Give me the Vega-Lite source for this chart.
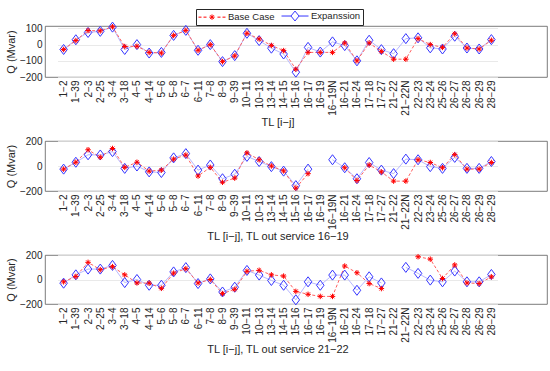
{
  "$schema": "https://vega.github.io/schema/vega-lite/v6.json",
  "background": "white",
  "padding": {"left": 5, "top": 8, "right": 3, "bottom": 2},
  "datasets": {
    "d": [
      {"p": 1, "tl": "1−2", "Base Case": -30, "Expanssion": -30},
      {"p": 1, "tl": "1−39", "Base Case": 25, "Expanssion": 30},
      {"p": 1, "tl": "2−3", "Base Case": 87, "Expanssion": 75},
      {"p": 1, "tl": "2−25", "Base Case": 85, "Expanssion": 82},
      {"p": 1, "tl": "3−4", "Base Case": 110, "Expanssion": 108},
      {"p": 1, "tl": "3−18", "Base Case": -12, "Expanssion": -30},
      {"p": 1, "tl": "4−5", "Base Case": -10, "Expanssion": 0},
      {"p": 1, "tl": "4−14", "Base Case": -48, "Expanssion": -52},
      {"p": 1, "tl": "5−6", "Base Case": -52, "Expanssion": -48},
      {"p": 1, "tl": "5−8", "Base Case": 57, "Expanssion": 57},
      {"p": 1, "tl": "6−7", "Base Case": 88, "Expanssion": 88},
      {"p": 1, "tl": "6−11", "Base Case": -35, "Expanssion": -35},
      {"p": 1, "tl": "7−8", "Base Case": 0, "Expanssion": 0},
      {"p": 1, "tl": "8−9", "Base Case": -105, "Expanssion": -105},
      {"p": 1, "tl": "9−39", "Base Case": -70, "Expanssion": -68},
      {"p": 1, "tl": "10−11", "Base Case": 70, "Expanssion": 70},
      {"p": 1, "tl": "10−13", "Base Case": 35, "Expanssion": 25},
      {"p": 1, "tl": "13−14", "Base Case": -5, "Expanssion": -22},
      {"p": 1, "tl": "14−15", "Base Case": -37, "Expanssion": -58},
      {"p": 1, "tl": "15−16", "Base Case": -152, "Expanssion": -170},
      {"p": 1, "tl": "16−17", "Base Case": -48, "Expanssion": -17},
      {"p": 1, "tl": "16−19", "Base Case": -48, "Expanssion": -46},
      {"p": 1, "tl": "16−19N", "Base Case": -48, "Expanssion": 17},
      {"p": 1, "tl": "16−21", "Base Case": 10, "Expanssion": -6},
      {"p": 1, "tl": "16−24", "Base Case": -100, "Expanssion": -100},
      {"p": 1, "tl": "17−18", "Base Case": 10, "Expanssion": 27},
      {"p": 1, "tl": "17−27", "Base Case": -42, "Expanssion": -31},
      {"p": 1, "tl": "21−22", "Base Case": -90, "Expanssion": -56},
      {"p": 1, "tl": "21−22N", "Base Case": -90, "Expanssion": 37},
      {"p": 1, "tl": "22−23", "Base Case": 37, "Expanssion": 42},
      {"p": 1, "tl": "23−24", "Base Case": 0, "Expanssion": -20},
      {"p": 1, "tl": "25−26", "Base Case": -17, "Expanssion": -27},
      {"p": 1, "tl": "26−27", "Base Case": 67, "Expanssion": 52},
      {"p": 1, "tl": "26−28", "Base Case": -21, "Expanssion": -21},
      {"p": 1, "tl": "26−29", "Base Case": -27, "Expanssion": -27},
      {"p": 1, "tl": "28−29", "Base Case": 27, "Expanssion": 31},

      {"p": 2, "tl": "1−2", "Base Case": -25, "Expanssion": -25},
      {"p": 2, "tl": "1−39", "Base Case": 30, "Expanssion": 30},
      {"p": 2, "tl": "2−3", "Base Case": 130, "Expanssion": 90},
      {"p": 2, "tl": "2−25", "Base Case": 70, "Expanssion": 88},
      {"p": 2, "tl": "3−4", "Base Case": 140, "Expanssion": 115},
      {"p": 2, "tl": "3−18", "Base Case": -11, "Expanssion": -19},
      {"p": 2, "tl": "4−5", "Base Case": 30, "Expanssion": 0},
      {"p": 2, "tl": "4−14", "Base Case": -41, "Expanssion": -47},
      {"p": 2, "tl": "5−6", "Base Case": -33, "Expanssion": -52},
      {"p": 2, "tl": "5−8", "Base Case": 55, "Expanssion": 65},
      {"p": 2, "tl": "6−7", "Base Case": 88, "Expanssion": 99},
      {"p": 2, "tl": "6−11", "Base Case": -80, "Expanssion": -33},
      {"p": 2, "tl": "7−8", "Base Case": -11, "Expanssion": 8},
      {"p": 2, "tl": "8−9", "Base Case": -130, "Expanssion": -102},
      {"p": 2, "tl": "9−39", "Base Case": -97, "Expanssion": -66},
      {"p": 2, "tl": "10−11", "Base Case": 105, "Expanssion": 77},
      {"p": 2, "tl": "10−13", "Base Case": 50, "Expanssion": 36},
      {"p": 2, "tl": "13−14", "Base Case": 0, "Expanssion": -5},
      {"p": 2, "tl": "14−15", "Base Case": -39, "Expanssion": -41},
      {"p": 2, "tl": "15−16", "Base Case": -177, "Expanssion": -157},
      {"p": 2, "tl": "16−17", "Base Case": -61, "Expanssion": -25},
      {"p": 2, "tl": "16−19", "Base Case": null, "Expanssion": null},
      {"p": 2, "tl": "16−19N", "Base Case": null, "Expanssion": 50},
      {"p": 2, "tl": "16−21", "Base Case": -14, "Expanssion": -14},
      {"p": 2, "tl": "16−24", "Base Case": -116, "Expanssion": -102},
      {"p": 2, "tl": "17−18", "Base Case": 8, "Expanssion": 28},
      {"p": 2, "tl": "17−27", "Base Case": -47, "Expanssion": -33},
      {"p": 2, "tl": "21−22", "Base Case": -121, "Expanssion": -61},
      {"p": 2, "tl": "21−22N", "Base Case": -121, "Expanssion": 55},
      {"p": 2, "tl": "22−23", "Base Case": 50, "Expanssion": 50},
      {"p": 2, "tl": "23−24", "Base Case": 28, "Expanssion": -5},
      {"p": 2, "tl": "25−26", "Base Case": -14, "Expanssion": -19},
      {"p": 2, "tl": "26−27", "Base Case": 91, "Expanssion": 69},
      {"p": 2, "tl": "26−28", "Base Case": -25, "Expanssion": -19},
      {"p": 2, "tl": "26−29", "Base Case": -25, "Expanssion": -19},
      {"p": 2, "tl": "28−29", "Base Case": 28, "Expanssion": 36},

      {"p": 3, "tl": "1−2", "Base Case": -19, "Expanssion": -30},
      {"p": 3, "tl": "1−39", "Base Case": 25, "Expanssion": 38},
      {"p": 3, "tl": "2−3", "Base Case": 140, "Expanssion": 85},
      {"p": 3, "tl": "2−25", "Base Case": 80, "Expanssion": 85},
      {"p": 3, "tl": "3−4", "Base Case": 105, "Expanssion": 115},
      {"p": 3, "tl": "3−18", "Base Case": 38, "Expanssion": -25},
      {"p": 3, "tl": "4−5", "Base Case": -28, "Expanssion": 0},
      {"p": 3, "tl": "4−14", "Base Case": -30, "Expanssion": -47},
      {"p": 3, "tl": "5−6", "Base Case": -72, "Expanssion": -47},
      {"p": 3, "tl": "5−8", "Base Case": 52, "Expanssion": 62},
      {"p": 3, "tl": "6−7", "Base Case": 88, "Expanssion": 97},
      {"p": 3, "tl": "6−11", "Base Case": -28, "Expanssion": -33},
      {"p": 3, "tl": "7−8", "Base Case": 0, "Expanssion": 5},
      {"p": 3, "tl": "8−9", "Base Case": -115, "Expanssion": -102},
      {"p": 3, "tl": "9−39", "Base Case": -80, "Expanssion": -63},
      {"p": 3, "tl": "10−11", "Base Case": 67, "Expanssion": 74},
      {"p": 3, "tl": "10−13", "Base Case": 75, "Expanssion": 36},
      {"p": 3, "tl": "13−14", "Base Case": 38, "Expanssion": -8},
      {"p": 3, "tl": "14−15", "Base Case": 28, "Expanssion": -47},
      {"p": 3, "tl": "15−16", "Base Case": -97, "Expanssion": -166},
      {"p": 3, "tl": "16−17", "Base Case": -121, "Expanssion": -19},
      {"p": 3, "tl": "16−19", "Base Case": -138, "Expanssion": -47},
      {"p": 3, "tl": "16−19N", "Base Case": -138, "Expanssion": 36},
      {"p": 3, "tl": "16−21", "Base Case": 110, "Expanssion": 36},
      {"p": 3, "tl": "16−24", "Base Case": 55, "Expanssion": -88},
      {"p": 3, "tl": "17−18", "Base Case": -33, "Expanssion": 22},
      {"p": 3, "tl": "17−27", "Base Case": -74, "Expanssion": -28},
      {"p": 3, "tl": "21−22", "Base Case": null, "Expanssion": null},
      {"p": 3, "tl": "21−22N", "Base Case": null, "Expanssion": 99},
      {"p": 3, "tl": "22−23", "Base Case": 186, "Expanssion": 50},
      {"p": 3, "tl": "23−24", "Base Case": 166, "Expanssion": -5},
      {"p": 3, "tl": "25−26", "Base Case": 8, "Expanssion": -19},
      {"p": 3, "tl": "26−27", "Base Case": 119, "Expanssion": 69},
      {"p": 3, "tl": "26−28", "Base Case": -28, "Expanssion": -19},
      {"p": 3, "tl": "26−29", "Base Case": -33, "Expanssion": -19},
      {"p": 3, "tl": "28−29", "Base Case": 22, "Expanssion": 41}
    ]
  },
  "data": {"name": "d"},
  "transform": [{"fold": ["Base Case", "Expanssion"], "as": ["s", "q"]}],
  "spacing": 7,
  "vconcat": [
    {
      "width": 502, "height": 51,
      "transform": [{"filter": "datum.p === 1"}],
      "encoding": {
        "x": {"field": "tl", "type": "nominal", "sort": ["1−2","1−39","2−3","2−25","3−4","3−18","4−5","4−14","5−6","5−8","6−7","6−11","7−8","8−9","9−39","10−11","10−13","13−14","14−15","15−16","16−17","16−19","16−19N","16−21","16−24","17−18","17−27","21−22","21−22N","22−23","23−24","25−26","26−27","26−28","26−29","28−29"],
          "scale": {"type": "point", "range": [12.5, 452.5]}, "axis": {"title": "TL [i−j]"}},
        "y": {"field": "q", "type": "quantitative", "scale": {"domain": [-200, 115], "nice": false, "zero": false}, "axis": {"values": [-200, -100, 0, 100], "title": "Q (Mvar)"}}
      },
      "layer": [
        {"transform": [{"filter": "datum.s === 'Expanssion'"}],
         "mark": {"type": "line", "strokeWidth": 1, "stroke": "#b8b8ff", "invalid": "break-paths-filter-domains"}},
        {"transform": [{"filter": "datum.s === 'Base Case'"}],
         "mark": {"type": "line", "strokeWidth": 1, "stroke": "#ff6060", "strokeDash": [3, 2], "invalid": "break-paths-filter-domains"}},
        {"transform": [{"filter": "datum.s === 'Expanssion'"}],
         "mark": {"type": "point", "filled": false, "strokeWidth": 1, "opacity": 1, "shape": "M0,-1.2L0.9,0L0,1.2L-0.9,0Z", "size": 70},
         "encoding": {"color": {"field": "s", "type": "nominal", "scale": {"domain": ["Base Case", "Expanssion"], "range": ["#ff0000", "#3535ff"]}, "legend": {"title": null}}}},
        {"transform": [{"filter": "datum.s === 'Base Case'"}],
         "mark": {"type": "point", "filled": false, "strokeWidth": 1, "opacity": 1, "shape": "M-1,0L1,0M0,-1L0,1M-0.7,-0.7L0.7,0.7M-0.7,0.7L0.7,-0.7", "size": 30},
         "encoding": {"color": {"field": "s", "type": "nominal", "scale": {"domain": ["Base Case", "Expanssion"], "range": ["#ff0000", "#3535ff"]}, "legend": {"title": null}}}},
        {"mark": {"type": "point", "filled": false, "strokeWidth": 1, "opacity": 0, "size": 81},
         "encoding": {
           "color": {"field": "s", "type": "nominal", "scale": {"domain": ["Base Case", "Expanssion"], "range": ["#ff0000", "#3535ff"]}, "legend": {"title": null}},
           "shape": {"field": "s", "type": "nominal", "scale": {"domain": ["Base Case", "Expanssion"], "range": ["M-1,0L-0.33,0M0.11,0L0.78,0M3.22,0L3.89,0M4.33,0L5,0M1.4,0L2.6,0M2,-0.6L2,0.6M1.58,-0.42L2.42,0.42M1.58,0.42L2.42,-0.42", "M-1,0L1.1,0M2.9,0L5,0M2,-1.1L2.9,0L2,1.1L1.1,0Z"]}, "legend": {"title": null}}
         }}
      ]
    },
    {
      "width": 502, "height": 50,
      "transform": [{"filter": "datum.p === 2"}],
      "encoding": {
        "x": {"field": "tl", "type": "nominal", "sort": ["1−2","1−39","2−3","2−25","3−4","3−18","4−5","4−14","5−6","5−8","6−7","6−11","7−8","8−9","9−39","10−11","10−13","13−14","14−15","15−16","16−17","16−19","16−19N","16−21","16−24","17−18","17−27","21−22","21−22N","22−23","23−24","25−26","26−27","26−28","26−29","28−29"],
          "scale": {"type": "point", "range": [12.5, 452.5]}, "axis": {"title": "TL [i−j], TL out service 16−19"}},
        "y": {"field": "q", "type": "quantitative", "scale": {"domain": [-200, 200], "nice": false, "zero": false}, "axis": {"values": [-200, 0, 200], "title": "Q (Mvar)"}}
      },
      "layer": [
        {"transform": [{"filter": "datum.s === 'Expanssion'"}],
         "mark": {"type": "line", "strokeWidth": 1, "stroke": "#b8b8ff", "invalid": "break-paths-filter-domains"}},
        {"transform": [{"filter": "datum.s === 'Base Case'"}],
         "mark": {"type": "line", "strokeWidth": 1, "stroke": "#ff6060", "strokeDash": [3, 2], "invalid": "break-paths-filter-domains"}},
        {"transform": [{"filter": "datum.s === 'Expanssion'"}],
         "mark": {"type": "point", "filled": false, "strokeWidth": 1, "opacity": 1, "shape": "M0,-1.2L0.9,0L0,1.2L-0.9,0Z", "size": 70},
         "encoding": {"color": {"field": "s", "type": "nominal", "scale": {"domain": ["Base Case", "Expanssion"], "range": ["#ff0000", "#3535ff"]}, "legend": {"title": null}}}},
        {"transform": [{"filter": "datum.s === 'Base Case'"}],
         "mark": {"type": "point", "filled": false, "strokeWidth": 1, "opacity": 1, "shape": "M-1,0L1,0M0,-1L0,1M-0.7,-0.7L0.7,0.7M-0.7,0.7L0.7,-0.7", "size": 30},
         "encoding": {"color": {"field": "s", "type": "nominal", "scale": {"domain": ["Base Case", "Expanssion"], "range": ["#ff0000", "#3535ff"]}, "legend": {"title": null}}}}
      ]
    },
    {
      "width": 502, "height": 49,
      "transform": [{"filter": "datum.p === 3"}],
      "encoding": {
        "x": {"field": "tl", "type": "nominal", "sort": ["1−2","1−39","2−3","2−25","3−4","3−18","4−5","4−14","5−6","5−8","6−7","6−11","7−8","8−9","9−39","10−11","10−13","13−14","14−15","15−16","16−17","16−19","16−19N","16−21","16−24","17−18","17−27","21−22","21−22N","22−23","23−24","25−26","26−27","26−28","26−29","28−29"],
          "scale": {"type": "point", "range": [12.5, 452.5]}, "axis": {"title": "TL [i−j], TL out service 21−22"}},
        "y": {"field": "q", "type": "quantitative", "scale": {"domain": [-200, 200], "nice": false, "zero": false}, "axis": {"values": [-200, 0, 200], "title": "Q (Mvar)"}}
      },
      "layer": [
        {"transform": [{"filter": "datum.s === 'Expanssion'"}],
         "mark": {"type": "line", "strokeWidth": 1, "stroke": "#b8b8ff", "invalid": "break-paths-filter-domains"}},
        {"transform": [{"filter": "datum.s === 'Base Case'"}],
         "mark": {"type": "line", "strokeWidth": 1, "stroke": "#ff6060", "strokeDash": [3, 2], "invalid": "break-paths-filter-domains"}},
        {"transform": [{"filter": "datum.s === 'Expanssion'"}],
         "mark": {"type": "point", "filled": false, "strokeWidth": 1, "opacity": 1, "shape": "M0,-1.2L0.9,0L0,1.2L-0.9,0Z", "size": 70},
         "encoding": {"color": {"field": "s", "type": "nominal", "scale": {"domain": ["Base Case", "Expanssion"], "range": ["#ff0000", "#3535ff"]}, "legend": {"title": null}}}},
        {"transform": [{"filter": "datum.s === 'Base Case'"}],
         "mark": {"type": "point", "filled": false, "strokeWidth": 1, "opacity": 1, "shape": "M-1,0L1,0M0,-1L0,1M-0.7,-0.7L0.7,0.7M-0.7,0.7L0.7,-0.7", "size": 30},
         "encoding": {"color": {"field": "s", "type": "nominal", "scale": {"domain": ["Base Case", "Expanssion"], "range": ["#ff0000", "#3535ff"]}, "legend": {"title": null}}}}
      ]
    }
  ],
  "resolve": {"scale": {"y": "independent", "x": "independent"}},
  "config": {
    "font": "Liberation Sans",
    "view": {"stroke": "#5a5a5a", "strokeWidth": 0.8},
    "axis": {
      "labelFont": "Liberation Sans", "labelFontSize": 10, "labelColor": "#262626",
      "titleFont": "Liberation Sans", "titleFontSize": 11, "titleFontWeight": "normal", "titleColor": "#262626",
      "gridColor": "#e3e3e3", "gridWidth": 0.8, "domain": false, "ticks": false, "labelPadding": 3
    },
    "axisX": {"labelAngle": -90, "titlePadding": 1, "labelBound": false},
    "axisY": {"titlePadding": 3},
    "legend": {
      "orient": "none", "direction": "horizontal", "legendX": 151, "legendY": -17,
      "strokeColor": "#262626", "fillColor": "white", "padding": 2,
      "labelFont": "Liberation Sans", "labelFontSize": 9.5, "labelColor": "#262626",
      "symbolStrokeWidth": 1, "symbolSize": 81, "symbolOpacity": 1, "symbolFillColor": "transparent",
      "columnPadding": 4, "labelOffset": 20
    }
  }
}
